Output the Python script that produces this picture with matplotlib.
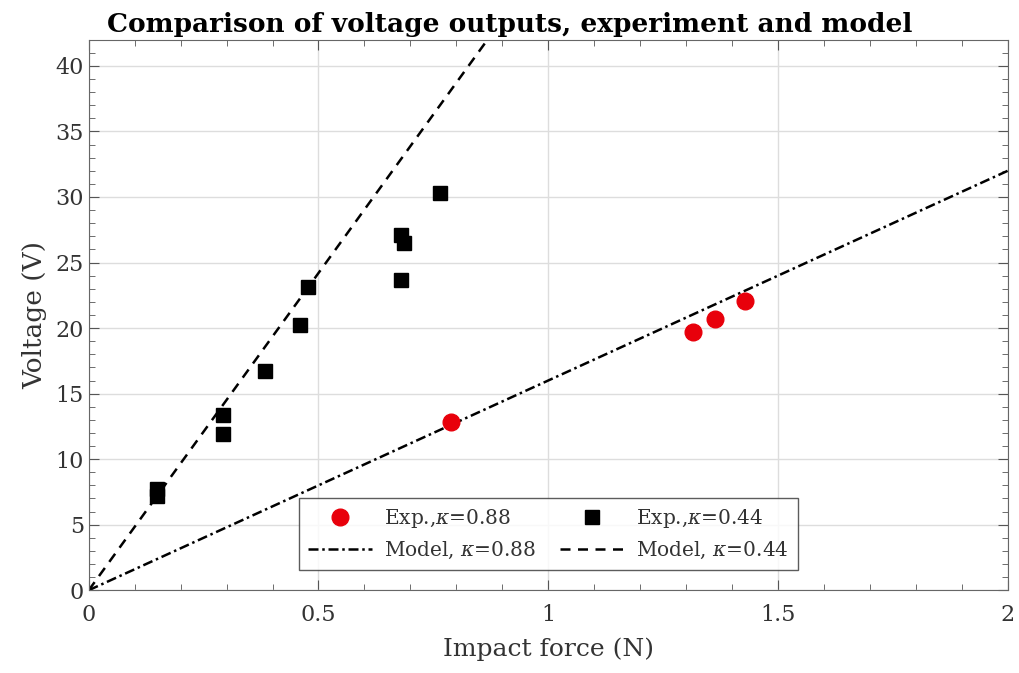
import numpy as np
import matplotlib
matplotlib.use("Agg")
import matplotlib.pyplot as plt
from matplotlib.ticker import MultipleLocator, FuncFormatter

force_088 = [0.789, 1.316, 1.362, 1.429]
volt_088 = [12.8, 19.7, 20.7, 22.1]

force_044 = [0.148, 0.148, 0.292, 0.292, 0.383, 0.46, 0.477, 0.68, 0.686, 0.68, 0.765]
volt_044 = [7.7, 7.2, 13.4, 11.9, 16.7, 20.2, 23.1, 27.1, 26.5, 23.7, 30.3]

# model slopes (V per N)
slope_088 = 16.0
slope_044 = 48.4

plt.rcParams['font.family'] = ['DejaVu Serif']
plt.rcParams['mathtext.fontset'] = 'dejavuserif'

fig = plt.figure(figsize=(10.2, 6.73), dpi=100)
ax = fig.add_axes([0.087, 0.123, 0.901, 0.818])

xm = np.array([0.0, 2.0])
h1, = ax.plot(force_088, volt_088, 'o', color='#e8000b', markersize=12, zorder=4,
              label=r'Exp.,$\kappa$=0.88')
h2, = ax.plot(force_044, volt_044, 's', color='black', markersize=10, zorder=4,
              label=r'Exp.,$\kappa$=0.44')
h3, = ax.plot(xm, slope_088 * xm, color='black', lw=1.8, linestyle=(0, (4, 1.5, 1, 1.5)),
              label=r'Model, $\kappa$=0.88')
h4, = ax.plot(xm, slope_044 * xm, color='black', lw=1.8, linestyle=(0, (4, 3)),
              label=r'Model, $\kappa$=0.44')

ax.set_xlim(0, 2)
ax.set_ylim(0, 42)
ax.xaxis.set_major_locator(MultipleLocator(0.5))
ax.xaxis.set_minor_locator(MultipleLocator(0.1))
ax.yaxis.set_major_locator(MultipleLocator(5))
ax.yaxis.set_minor_locator(MultipleLocator(1))
ax.xaxis.set_major_formatter(FuncFormatter(lambda v, p: f'{v:g}'))
ax.tick_params(which='both', direction='in', top=True, right=True, colors='#555555',
               labelcolor='#333333', labelsize=16)
ax.tick_params(which='major', length=7)
ax.tick_params(which='minor', length=4)
ax.tick_params(axis='x', pad=10)
ax.grid(True, which='major', color='#dddddd', lw=1)
ax.set_axisbelow(True)
for s in ax.spines.values():
    s.set_color('#666666')

ax.set_xlabel('Impact force (N)', fontsize=18, color='#333333', labelpad=8)
ax.set_ylabel('Voltage (V)', fontsize=19, color='#333333', labelpad=6)
fig.suptitle('Comparison of voltage outputs, experiment and model',
             fontsize=19, weight='bold', x=0.5, y=0.982, va='top')

leg = ax.legend(handles=[h1, h3, h2, h4], ncol=2, loc='lower center',
                bbox_to_anchor=(0.5, 0.036),
                fontsize=14.5, frameon=True, fancybox=False, edgecolor='#333333',
                handlelength=3.2, handletextpad=0.6, columnspacing=1.2,
                borderpad=0.45, labelspacing=0.5, borderaxespad=0)
leg.get_frame().set_linewidth(1.0)
for t in leg.get_texts():
    t.set_color('#333333')

fig.savefig('out.png', dpi=100)
